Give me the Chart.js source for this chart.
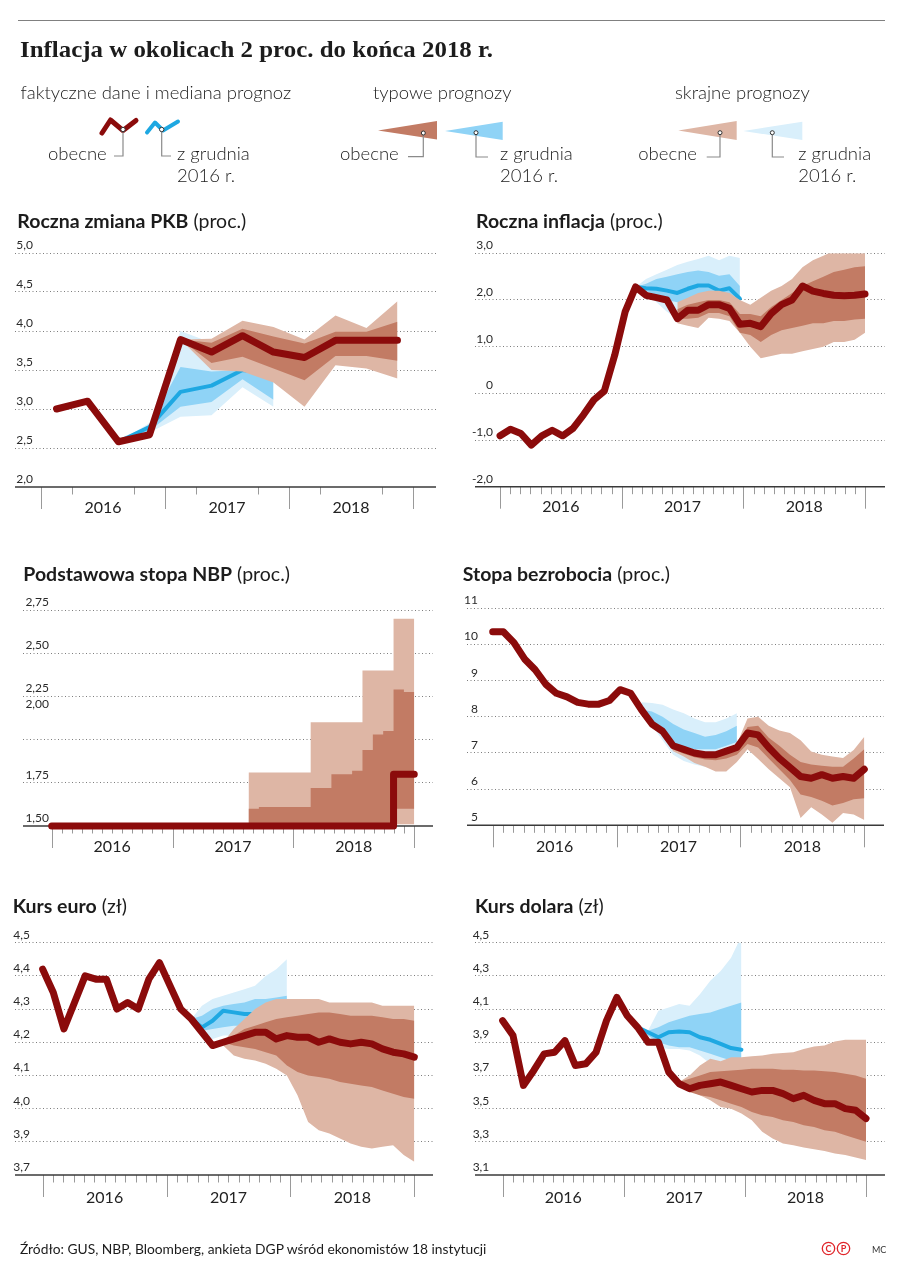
<!DOCTYPE html>
<html lang="pl">
<head>
<meta charset="utf-8">
<title>Inflacja w okolicach 2 proc. do końca 2018 r.</title>
<script src="https://cdn.jsdelivr.net/npm/chart.js@4.4.1/dist/chart.umd.min.js"></script>
<style>
  html, body { margin: 0; padding: 0; background: #fff; }
  #page { position: relative; width: 897px; height: 1271px; overflow: hidden; }
  #page canvas { position: absolute; }
  #overlay { position: absolute; left: 0; top: 0; pointer-events: none; }
  #overlay text { font-family: Lato, "Noto Sans", sans-serif; fill: #1c1c1c; }
  .lg { font-size: 18.5px; font-weight: 300; }
  .pt { font-size: 19.5px; }
</style>
</head>
<body>
<div id="page">
<svg id="overlay" width="897" height="1271" viewBox="0 0 897 1271">
  <line x1="18" y1="20.5" x2="885" y2="20.5" stroke="#808080" stroke-width="1"/>
  <text x="20" y="57" textLength="473" lengthAdjust="spacingAndGlyphs" style="font-family:'Liberation Serif','DejaVu Serif',serif;font-size:23px;font-weight:700">Inflacja w okolicach 2 proc. do końca 2018 r.</text>

  <!-- legenda -->
  <text class="lg" x="20.5" y="99">faktyczne dane i mediana prognoz</text>
  <text class="lg" x="373" y="99">typowe prognozy</text>
  <text class="lg" x="675" y="99">skrajne prognozy</text>

  <polyline points="102,133 110.5,120 123,130.5 136,120.5" fill="none" stroke="#8b0b0b" stroke-width="5" stroke-linecap="round" stroke-linejoin="round"/>
  <polyline points="147,132.5 155,122.5 163,130.5 178,121.5" fill="none" stroke="#1ea8e2" stroke-width="4" stroke-linecap="round" stroke-linejoin="round"/>
  <path d="M123,132 V156 H114" fill="none" stroke="#8a8a8a" stroke-width="1.2"/>
  <path d="M161.7,132 V156 H171" fill="none" stroke="#8a8a8a" stroke-width="1.2"/>
  <circle cx="123" cy="129.5" r="2.2" fill="#fff" stroke="#333" stroke-width="1"/>
  <circle cx="161.7" cy="129.5" r="2.2" fill="#fff" stroke="#333" stroke-width="1"/>
  <text class="lg" x="48" y="160">obecne</text>
  <text class="lg" x="177" y="160">z grudnia</text>
  <text class="lg" x="177" y="181.5">2016 r.</text>

  <polygon points="378,130.5 437,121 437,139.5" fill="#c27b64"/>
  <polygon points="445,131 502.7,121.7 502.7,140" fill="#8fd3f6"/>
  <path d="M423.3,135 V156.7 H408" fill="none" stroke="#8a8a8a" stroke-width="1.2"/>
  <path d="M476,135 V157 H488" fill="none" stroke="#8a8a8a" stroke-width="1.2"/>
  <circle cx="423.3" cy="133" r="2" fill="#fff" stroke="#333" stroke-width="1"/>
  <circle cx="476" cy="132.7" r="2" fill="#fff" stroke="#333" stroke-width="1"/>
  <text class="lg" x="340" y="160">obecne</text>
  <text class="lg" x="500" y="160">z grudnia</text>
  <text class="lg" x="500" y="181.5">2016 r.</text>

  <polygon points="678.3,130.5 736.7,121 736.7,140" fill="#deb6a5"/>
  <polygon points="743.3,131 802.3,121.7 802.3,140" fill="#d9effb"/>
  <path d="M720,135 V157 H706.7" fill="none" stroke="#8a8a8a" stroke-width="1.2"/>
  <path d="M772.3,135 V157 H784" fill="none" stroke="#8a8a8a" stroke-width="1.2"/>
  <circle cx="720" cy="132.7" r="2" fill="#fff" stroke="#333" stroke-width="1"/>
  <circle cx="772.3" cy="132.7" r="2" fill="#fff" stroke="#333" stroke-width="1"/>
  <text class="lg" x="638.3" y="160">obecne</text>
  <text class="lg" x="798.3" y="160">z grudnia</text>
  <text class="lg" x="798.3" y="181.5">2016 r.</text>

  <!-- tytuły wykresów -->
  <text class="pt" x="17.3" y="227.7"><tspan font-weight="700">Roczna zmiana PKB</tspan> (proc.)</text>
  <text class="pt" x="476" y="227.7"><tspan font-weight="700">Roczna inflacja</tspan> (proc.)</text>
  <text class="pt" x="23.3" y="580.7"><tspan font-weight="700">Podstawowa stopa NBP</tspan> (proc.)</text>
  <text class="pt" x="462.7" y="580.7"><tspan font-weight="700">Stopa bezrobocia</tspan> (proc.)</text>
  <text class="pt" x="12.7" y="912.7"><tspan font-weight="700">Kurs euro</tspan> (zł)</text>
  <text class="pt" x="475" y="912.7"><tspan font-weight="700">Kurs dolara</tspan> (zł)</text>

  <!-- stopka -->
  <text x="20" y="1253.5" style="font-size:13.8px">Źródło: GUS, NBP, Bloomberg, ankieta DGP wśród ekonomistów 18 instytucji</text>
  <circle cx="828.5" cy="1248.5" r="6.2" fill="none" stroke="#e0262b" stroke-width="1.3"/>
  <circle cx="843.5" cy="1248.5" r="6.2" fill="none" stroke="#e0262b" stroke-width="1.3"/>
  <text x="828.5" y="1252" text-anchor="middle" style="font-size:9px;font-weight:700;fill:#e0262b">C</text>
  <text x="843.5" y="1252" text-anchor="middle" style="font-size:9px;font-weight:700;fill:#e0262b">P</text>
  <text x="872" y="1252.5" style="font-size:9px;fill:#333">MC</text>
</svg>
</div>

<script>
const from = (start, values) => Array(start).fill(null).concat(values);
const years = ['2016', '2017', '2018'];

// Roczna zmiana PKB, kwartały I 2016 – IV 2018
const pkbTicks = [2.0, 2.5, 3.0, 3.5, 4.0, 4.5, 5.0];
const pkbTickText = ['2,0', '2,5', '3,0', '3,5', '4,0', '4,5', '5,0'];
const pkbNow = [3.0, 3.1, 2.58, 2.67, 3.89, 3.73, 3.94, 3.73, 3.66, 3.88, 3.88, 3.88];
const pkbDec = from(2, [2.58, 2.77, 3.22, 3.3, 3.5, 3.45]);
const pkbDecTypHi = from(2, [2.58, 2.8, 3.54, 3.48, 3.5, 3.45]);
const pkbDecTypLo = from(2, [2.58, 2.72, 3.03, 3.09, 3.38, 3.12]);
const pkbDecExtHi = from(2, [2.58, 2.82, 4.0, 3.85, 3.7, 3.55]);
const pkbDecExtLo = from(2, [2.58, 2.7, 2.9, 2.92, 3.28, 3.03]);
const pkbNowTypHi = from(4, [3.89, 3.85, 4.03, 3.93, 3.84, 3.99, 3.99, 4.12]);
const pkbNowTypLo = from(4, [3.89, 3.59, 3.67, 3.52, 3.37, 3.68, 3.68, 3.62]);
const pkbNowExtHi = from(4, [3.89, 3.9, 4.13, 4.05, 3.89, 4.2, 4.04, 4.38]);
const pkbNowExtLo = from(4, [3.89, 3.5, 3.48, 3.34, 3.03, 3.56, 3.52, 3.39]);

// Roczna inflacja, miesiące I 2016 – XII 2018
const infTicks = [-2, -1, 0, 1, 2, 3];
const infTickText = ['-2,0', '-1,0', '0', '1,0', '2,0', '3,0'];
const infNow = [-0.91, -0.77, -0.86, -1.11, -0.91, -0.79, -0.91, -0.75, -0.46, -0.14, 0.05, 0.82,
                1.75, 2.28, 2.1, 2.05, 2.0, 1.6, 1.78, 1.78, 1.9, 1.9, 1.82, 1.48,
                1.5, 1.43, 1.71, 1.9, 2.0, 2.3, 2.19, 2.14, 2.1, 2.09, 2.1, 2.13];
const infDec = from(13, [2.28, 2.25, 2.24, 2.2, 2.15, 2.24, 2.31, 2.31, 2.2, 2.25, 2.03]);
const infDecTypHi = from(13, [2.28, 2.35, 2.45, 2.5, 2.55, 2.6, 2.63, 2.6, 2.52, 2.55, 2.3]);
const infDecTypLo = from(13, [2.28, 2.2, 2.1, 2.0, 1.95, 2.0, 2.05, 2.05, 2.0, 2.05, 2.0]);
const infDecExtHi = from(13, [2.28, 2.45, 2.55, 2.65, 2.75, 2.82, 2.88, 2.95, 2.85, 2.95, 2.9]);
const infDecExtLo = from(13, [2.28, 2.12, 1.95, 1.75, 1.6, 1.7, 1.8, 1.85, 1.85, 1.9, 2.0]);
const infNowTypHi = from(17, [1.8, 1.9, 1.95, 2.0, 2.0, 1.95, 1.7, 1.7, 1.65, 1.85, 2.0, 2.15, 2.3, 2.4, 2.5, 2.6, 2.65, 2.7, 2.72]);
const infNowTypLo = from(17, [1.6, 1.6, 1.62, 1.72, 1.72, 1.65, 1.3, 1.25, 1.1, 1.25, 1.35, 1.4, 1.45, 1.5, 1.5, 1.55, 1.55, 1.58, 1.6]);
const infNowExtHi = from(17, [1.95, 2.05, 2.15, 2.2, 2.2, 2.15, 2.0, 1.9, 2.05, 2.2, 2.3, 2.45, 2.7, 2.85, 2.95, 3.05, 3.15, 3.25, 3.35]);
const infNowExtLo = from(17, [1.5, 1.45, 1.4, 1.62, 1.6, 1.55, 1.3, 1.0, 0.75, 0.8, 0.85, 0.85, 0.9, 0.95, 1.0, 1.1, 1.1, 1.15, 1.3]);

// Podstawowa stopa NBP
const nbpTicks = [1.5, 1.75, 2.0, 2.25, 2.5, 2.75];
const nbpTickText = ['1,50', '1,75', '', '2,25', '2,50', '2,75'];
const nbpNow = [1.5, 1.5, 1.5, 1.5, 1.5, 1.5, 1.5, 1.5, 1.5, 1.5, 1.5, 1.5,
                1.5, 1.5, 1.5, 1.5, 1.5, 1.5, 1.5, 1.5, 1.5, 1.5, 1.5, 1.5,
                1.5, 1.5, 1.5, 1.5, 1.5, 1.5, 1.5, 1.5, 1.5, 1.8, 1.8, 1.8];
const nbpNowTypHi = from(19, [1.6, 1.61, 1.61, 1.61, 1.61, 1.61, 1.72, 1.72, 1.8, 1.8, 1.82, 1.94, 2.03, 2.05, 2.29, 2.275, 2.275]);
const nbpNowTypLo = from(19, [1.5, 1.5, 1.5, 1.5, 1.5, 1.5, 1.5, 1.5, 1.5, 1.5, 1.5, 1.5, 1.5, 1.5, 1.6, 1.6, 1.6]);
const nbpNowExtHi = from(19, [1.81, 1.81, 1.81, 1.81, 1.81, 1.81, 2.1, 2.1, 2.1, 2.1, 2.1, 2.4, 2.4, 2.4, 2.7, 2.7, 2.7]);
const nbpNowExtLo = from(19, [1.5, 1.5, 1.5, 1.5, 1.5, 1.5, 1.5, 1.5, 1.5, 1.5, 1.5, 1.5, 1.5, 1.5, 1.51, 1.51, 1.51]);

// Stopa bezrobocia
const unTicks = [5, 6, 7, 8, 9, 10, 11];
const unTickText = ['5', '6', '7', '8', '9', '10', '11'];
const unNow = [10.35, 10.35, 10.05, 9.6, 9.3, 8.9, 8.65, 8.55, 8.4, 8.35, 8.35, 8.45,
               8.75, 8.65, 8.2, 7.8, 7.6, 7.2, 7.1, 7.0, 6.95, 6.95, 7.05, 7.15,
               7.55, 7.5, 7.15, 6.85, 6.6, 6.35, 6.3, 6.4, 6.3, 6.35, 6.3, 6.55];
const unDecTypHi = from(14, [8.2, 8.15, 8.0, 7.8, 7.65, 7.55, 7.45, 7.5, 7.6, 7.75]);
const unDecTypLo = from(14, [8.2, 7.8, 7.55, 7.25, 7.15, 7.1, 7.1, 7.1, 7.2, 7.3]);
const unDecExtHi = from(14, [8.4, 8.38, 8.33, 8.2, 8.1, 7.95, 7.85, 7.85, 7.95, 8.1]);
const unDecExtLo = from(14, [8.2, 7.75, 7.35, 6.95, 6.78, 6.68, 6.62, 6.65, 6.8, 7.0]);
const unNowTypHi = from(16, [7.6, 7.2, 7.1, 7.0, 6.95, 6.95, 7.05, 7.15, 7.72, 7.75, 7.42, 7.2, 6.95, 6.75, 6.68, 6.65, 6.62, 6.62, 6.85, 7.1]);
const unNowTypLo = from(16, [7.55, 7.1, 6.98, 6.88, 6.82, 6.8, 6.85, 6.95, 7.25, 7.15, 6.85, 6.55, 6.25, 5.85, 5.78, 5.68, 5.55, 5.62, 5.72, 5.75]);
const unNowExtHi = from(16, [7.6, 7.2, 7.1, 7.05, 7.0, 7.0, 7.1, 7.25, 7.95, 8.0, 7.75, 7.62, 7.55, 7.35, 7.04, 6.95, 6.9, 6.86, 7.08, 7.45]);
const unNowExtLo = from(16, [7.5, 7.05, 6.9, 6.72, 6.62, 6.49, 6.49, 6.75, 7.1, 6.83, 6.55, 6.3, 6.05, 5.2, 5.5, 5.3, 5.07, 5.34, 5.3, 5.15]);

// Kurs euro
const eurTicks = [3.8, 3.9, 4.0, 4.1, 4.2, 4.3, 4.4, 4.5];
const eurTickText = ['3,7', '3,9', '4,0', '4,1', '4,2', '4,3', '4,4', '4,5'];
const eurNow = [4.42, 4.35, 4.24, 4.32, 4.40, 4.39, 4.39, 4.30, 4.32, 4.30, 4.39, 4.44,
                4.37, 4.30, 4.27, 4.23, 4.19, 4.20, 4.21, 4.22, 4.23, 4.23, 4.21, 4.22,
                4.215, 4.215, 4.20, 4.21, 4.20, 4.195, 4.20, 4.195, 4.18, 4.17, 4.165, 4.155];
const eurDec = from(14, [4.27, 4.245, 4.265, 4.295, 4.29, 4.285, 4.285, 4.29, 4.29, 4.29]);
const eurDecTypHi = from(14, [4.27, 4.28, 4.30, 4.31, 4.315, 4.32, 4.33, 4.33, 4.335, 4.34]);
const eurDecTypLo = from(14, [4.27, 4.235, 4.24, 4.245, 4.25, 4.25, 4.25, 4.25, 4.25, 4.25]);
const eurDecExtHi = from(14, [4.27, 4.31, 4.33, 4.34, 4.35, 4.36, 4.37, 4.40, 4.42, 4.45]);
const eurDecExtLo = from(14, [4.27, 4.22, 4.21, 4.22, 4.22, 4.22, 4.22, 4.22, 4.22, 4.22]);
const eurNowTypHi = from(17, [4.20, 4.22, 4.24, 4.25, 4.26, 4.27, 4.275, 4.28, 4.285, 4.29, 4.29, 4.285, 4.28, 4.28, 4.28, 4.275, 4.27, 4.27, 4.265]);
const eurNowTypLo = from(17, [4.20, 4.19, 4.185, 4.18, 4.17, 4.16, 4.13, 4.11, 4.10, 4.095, 4.09, 4.08, 4.075, 4.07, 4.065, 4.055, 4.045, 4.035, 4.03]);
const eurNowExtHi = from(17, [4.20, 4.24, 4.27, 4.30, 4.32, 4.33, 4.33, 4.33, 4.33, 4.33, 4.32, 4.32, 4.32, 4.32, 4.32, 4.31, 4.31, 4.31, 4.31]);
const eurNowExtLo = from(17, [4.19, 4.16, 4.15, 4.145, 4.135, 4.12, 4.10, 4.04, 3.96, 3.935, 3.925, 3.91, 3.895, 3.885, 3.88, 3.885, 3.89, 3.86, 3.84]);

// Kurs dolara
const usdTicks = [3.1, 3.3, 3.5, 3.7, 3.9, 4.1, 4.3, 4.5];
const usdTickText = ['3,1', '3,3', '3,5', '3,7', '3,9', '4,1', '4,3', '4,5'];
const usdNow = [4.03, 3.94, 3.64, 3.73, 3.83, 3.84, 3.91, 3.76, 3.77, 3.84, 4.03, 4.17,
                4.06, 3.99, 3.90, 3.90, 3.72, 3.65, 3.62, 3.64, 3.65, 3.66, 3.64, 3.62,
                3.60, 3.61, 3.61, 3.59, 3.56, 3.58, 3.55, 3.53, 3.53, 3.50, 3.49, 3.44];
const usdDec = from(13, [3.99, 3.96, 3.93, 3.96, 3.965, 3.96, 3.93, 3.915, 3.89, 3.865, 3.855]);
const usdDecTypHi = from(13, [3.99, 3.97, 3.99, 4.02, 4.04, 4.06, 4.07, 4.08, 4.10, 4.12, 4.14]);
const usdDecTypLo = from(13, [3.99, 3.94, 3.90, 3.88, 3.87, 3.87, 3.85, 3.83, 3.81, 3.79, 3.77]);
const usdDecExtHi = from(13, [3.99, 3.97, 4.09, 4.11, 4.13, 4.12, 4.19, 4.27, 4.33, 4.41, 4.54]);
const usdDecExtLo = from(13, [3.99, 3.94, 3.87, 3.86, 3.86, 3.85, 3.82, 3.77, 3.77, 3.77, 3.77]);
const usdNowTypHi = from(17, [3.66, 3.68, 3.70, 3.72, 3.725, 3.73, 3.735, 3.74, 3.74, 3.74, 3.735, 3.735, 3.73, 3.73, 3.725, 3.72, 3.71, 3.70, 3.68]);
const usdNowTypLo = from(17, [3.64, 3.60, 3.58, 3.57, 3.55, 3.53, 3.51, 3.48, 3.46, 3.45, 3.43, 3.42, 3.40, 3.39, 3.37, 3.36, 3.34, 3.32, 3.30]);
const usdNowExtHi = from(17, [3.66, 3.70, 3.76, 3.80, 3.785, 3.81, 3.81, 3.815, 3.82, 3.83, 3.835, 3.84, 3.86, 3.875, 3.88, 3.905, 3.915, 3.915, 3.915]);
const usdNowExtLo = from(17, [3.64, 3.61, 3.58, 3.55, 3.51, 3.50, 3.47, 3.43, 3.36, 3.32, 3.29, 3.28, 3.265, 3.255, 3.245, 3.23, 3.22, 3.205, 3.19]);

const RED = '#8b0b0b', BLUE = '#1ea8e2';
const BROWN_TYP = '#c27b64', BROWN_EXT = '#deb6a5';
const BLUE_TYP = '#8fd3f6', BLUE_EXT = '#d9effb';

// miesiące rozciągnięte od pierwszej do ostatniej kreski lat, kwartały w środku kwartału
const monthX = i => i * 36 / 35;
const quarterX = q => q * 3 + 1.5;
const allMonths = [1, 2, 3, 4, 5, 6, 7, 8, 9, 10, 11];

const panels = [
  { canvas: [0, 232, 450, 298], area: [15, 253, 436, 487], x: [-2.52, 38.23], xOf: quarterX,
    y: [2, 5, 0.5], ticks: pkbTicks, text: pkbTickText, labelDx: 18, yearDy: 25.5, minor: [3, 9],
    now: pkbNow, dec: pkbDec, nowTyp: [pkbNowTypHi, pkbNowTypLo], nowExt: [pkbNowExtHi, pkbNowExtLo],
    decTyp: [pkbDecTypHi, pkbDecTypLo], decExt: [pkbDecExtHi, pkbDecExtLo] },
  { canvas: [450, 232, 447, 298], area: [475, 253.3, 885, 486.7], x: [-2.47, 37.97], xOf: monthX,
    y: [-2, 3, 1], ticks: infTicks, text: infTickText, labelDx: 18, yearDy: 25.5, minor: allMonths,
    now: infNow, dec: infDec, nowTyp: [infNowTypHi, infNowTypLo], nowExt: [infNowExtHi, infNowExtLo],
    decTyp: [infDecTypHi, infDecTypLo], decExt: [infDecExtHi, infDecExtLo] },
  { canvas: [0, 590, 450, 275], area: [23, 610, 433, 826], x: [-2.85, 37.86], xOf: monthX, stepped: true,
    y: [1.5, 2.75, 0.25], ticks: nbpTicks, text: nbpTickText, labelDx: 26, yearDy: 25.7, minor: allMonths,
    under: [{ value: 2.25, text: '2,00' }],
    now: nbpNow, nowTyp: [nbpNowTypHi, nbpNowTypLo], nowExt: [nbpNowExtHi, nbpNowExtLo] },
  { canvas: [450, 590, 447, 275], area: [467, 608.3, 884, 825.3], x: [-2.49, 37.91], xOf: monthX,
    y: [5, 11, 1], ticks: unTicks, text: unTickText, labelDx: 11, yearDy: 26.4, minor: allMonths,
    now: unNow, nowTyp: [unNowTypHi, unNowTypLo], nowExt: [unNowExtHi, unNowExtLo],
    decTyp: [unDecTypHi, unDecTypLo], decExt: [unDecExtHi, unDecExtLo] },
  { canvas: [0, 925, 450, 300], area: [15, 942.7, 433, 1175], x: [-2.68, 37.81], xOf: monthX,
    y: [3.8, 4.5, 0.1], ticks: eurTicks, text: eurTickText, labelDx: 15, yearDy: 28, minor: allMonths,
    now: eurNow, dec: eurDec, nowTyp: [eurNowTypHi, eurNowTypLo], nowExt: [eurNowExtHi, eurNowExtLo],
    decTyp: [eurDecTypHi, eurDecTypLo], decExt: [eurDecExtHi, eurDecExtLo] },
  { canvas: [450, 925, 447, 300], area: [475, 942.7, 885, 1175], x: [-2.74, 37.88], xOf: monthX,
    y: [3.1, 4.5, 0.2], ticks: usdTicks, text: usdTickText, labelDx: 14.3, yearDy: 28, minor: allMonths,
    now: usdNow, dec: usdDec, nowTyp: [usdNowTypHi, usdNowTypLo], nowExt: [usdNowExtHi, usdNowExtLo],
    decTyp: [usdDecTypHi, usdDecTypLo], decExt: [usdDecExtHi, usdDecExtLo] }
];

// opisy osi: etykiety nad liniami siatki, oś X z kreskami lat i miesięcy
const axisDeco = {
  id: 'axisDeco',
  beforeDatasetsDraw(chart, args, o) {
    const { ctx, chartArea: a, scales: { x, y } } = chart;
    ctx.save();
    ctx.font = '12px Lato, "Noto Sans", sans-serif';
    ctx.fillStyle = '#2a2a2a';
    ctx.textAlign = 'right';
    o.ticks.forEach((v, k) => {
      if (o.text[k]) ctx.fillText(o.text[k], a.left + o.labelDx, y.getPixelForValue(v) - 4);
    });
    (o.under || []).forEach(u => ctx.fillText(u.text, a.left + o.labelDx, y.getPixelForValue(u.value) + 12));

    ctx.strokeStyle = '#9a9a9a';
    ctx.lineWidth = 1;
    for (let m = 0; m <= 36; m++) {
      const major = m % 12 === 0;
      if (!major && !o.minor.includes(m % 12)) continue;
      const px = Math.round(x.getPixelForValue(m)) + 0.5;
      ctx.beginPath();
      ctx.moveTo(px, a.bottom);
      ctx.lineTo(px, a.bottom + (major ? 22 : 7.5));
      ctx.stroke();
    }
    ctx.strokeStyle = '#3a3a3a';
    ctx.lineWidth = 1.5;
    ctx.beginPath();
    ctx.moveTo(a.left, a.bottom);
    ctx.lineTo(a.right, a.bottom);
    ctx.stroke();

    ctx.font = '16px Lato, "Noto Sans", sans-serif';
    ctx.fillStyle = '#222';
    ctx.textAlign = 'center';
    years.forEach((yr, k) => ctx.fillText(yr, x.getPixelForValue(12 * k + 6), a.bottom + o.yearDy));
    ctx.restore();
  }
};

function points(values, xOf) {
  return values.map((v, i) => ({ x: xOf(i), y: v }));
}

function line(values, p, color, width) {
  return {
    data: points(values, p.xOf), borderColor: color, borderWidth: width,
    borderCapStyle: 'round', borderJoinStyle: 'round', pointRadius: 0,
    fill: false, tension: 0, clip: false, stepped: !!p.stepped
  };
}

function band(pair, p, color) {
  const base = { pointRadius: 0, borderWidth: 0, borderColor: 'rgba(0,0,0,0)', tension: 0, stepped: !!p.stepped };
  return [
    Object.assign({}, base, { data: points(pair[0], p.xOf), fill: '+1', backgroundColor: color }),
    Object.assign({}, base, { data: points(pair[1], p.xOf), fill: false })
  ];
}

const page = document.getElementById('page');
const overlay = document.getElementById('overlay');

panels.forEach(p => {
  const [cx, cy, cw, ch] = p.canvas;
  const [L, T, R, B] = p.area;
  const canvas = document.createElement('canvas');
  canvas.width = cw;
  canvas.height = ch;
  canvas.style.left = cx + 'px';
  canvas.style.top = cy + 'px';
  page.insertBefore(canvas, overlay);

  // kolejność: pierwszy zestaw rysowany na wierzchu
  const datasets = [line(p.now, p, RED, 7)];
  if (p.nowTyp) datasets.push(...band(p.nowTyp, p, BROWN_TYP));
  if (p.nowExt) datasets.push(...band(p.nowExt, p, BROWN_EXT));
  if (p.dec) datasets.push(line(p.dec, p, BLUE, 4));
  if (p.decTyp) datasets.push(...band(p.decTyp, p, BLUE_TYP));
  if (p.decExt) datasets.push(...band(p.decExt, p, BLUE_EXT));

  const yMin = p.y[0];
  new Chart(canvas, {
    type: 'line',
    data: { datasets },
    options: {
      responsive: false,
      animation: false,
      events: [],
      layout: { autoPadding: false, padding: { left: L - cx, top: T - cy, right: cx + cw - R, bottom: cy + ch - B } },
      plugins: {
        legend: { display: false },
        tooltip: { enabled: false },
        axisDeco: { ticks: p.ticks, text: p.text, labelDx: p.labelDx, yearDy: p.yearDy, minor: p.minor, under: p.under }
      },
      scales: {
        x: { type: 'linear', display: false, min: p.x[0], max: p.x[1] },
        y: {
          min: p.y[0], max: p.y[1],
          ticks: { display: false, stepSize: p.y[2] },
          grid: { drawTicks: false, lineWidth: 1,
                  color: c => (c.tick && Math.abs(c.tick.value - yMin) < 1e-6) ? 'rgba(0,0,0,0)' : '#7d7d7d' },
          border: { display: false, dash: [1, 2.5] }
        }
      }
    },
    plugins: [axisDeco]
  });
});
</script>
</body>
</html>
